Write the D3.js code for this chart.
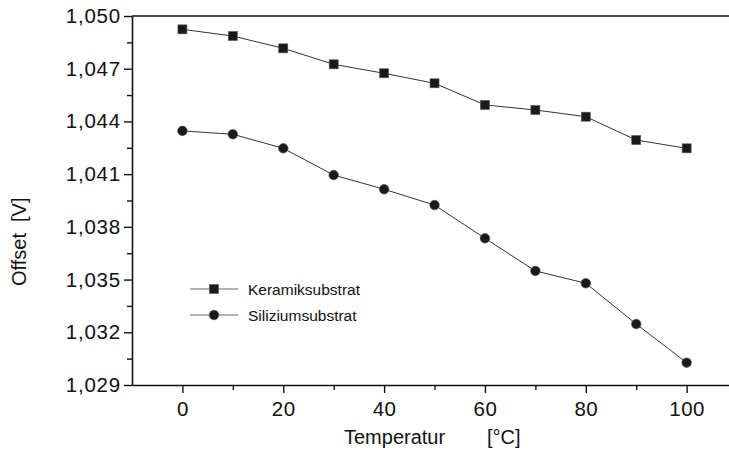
<!DOCTYPE html>
<html><head><meta charset="utf-8">
<script src="https://cdn.jsdelivr.net/npm/d3@7"></script>
<style>
body{margin:0;background:#fff;}
svg{display:block;}
text{font-family:"Liberation Sans",Arial,sans-serif;fill:#111;}
</style></head>
<body>
<svg id="c" width="729" height="460"></svg>
<script>
const temperatures = [0,10,20,30,40,50,60,70,80,90,100];
const keramik = [1.04924,1.04886,1.04816,1.04725,1.04674,1.04617,1.04494,1.04465,1.04427,1.04294,1.04247];
const silizium = [1.04346,1.04327,1.04247,1.04095,1.04014,1.03924,1.03735,1.03549,1.03479,1.03247,1.03027];
const xMajor = [0,20,40,60,80,100];
const xMinor = [10,30,50,70,90];
const yMajor = [1.029,1.032,1.035,1.038,1.041,1.044,1.047,1.050];
const yMinor = [1.0305,1.0335,1.0365,1.0395,1.0425,1.0455,1.0485];
const seriesNames = ["Keramiksubstrat","Siliziumsubstrat"];

const svg = d3.select("#c");
const x = d3.scaleLinear().domain([-10,108.4]).range([132,729]);
const y = d3.scaleLinear().domain([1.029,1.050]).range([385,16]);
const loc = d3.formatLocale({decimal:",",thousands:".",grouping:[3],currency:["",""]});
const fy = loc.format(".3f");
const FONT = "Liberation Sans, Arial, sans-serif";

// top frame line
svg.append("line").attr("x1",x.range()[0]).attr("x2",x.range()[1]).attr("y1",y(1.050)).attr("y2",y(1.050))
  .attr("stroke","#111").attr("stroke-width",1.6);

// x axis
const gx = svg.append("g").attr("transform",`translate(0,${y(1.029)})`);
gx.call(d3.axisBottom(x).tickValues(xMajor).tickSize(8).tickPadding(8).tickSizeOuter(0));
const gx2 = svg.append("g").attr("transform",`translate(0,${y(1.029)})`);
gx2.call(d3.axisBottom(x).tickValues(xMinor).tickSize(5).tickFormat("").tickSizeOuter(0));
gx2.select(".domain").remove();
gx.selectAll("text").attr("font-size",20.5).attr("font-family",FONT).attr("fill","#111")
  .attr("letter-spacing",0.5);

// y axis
const gy = svg.append("g").attr("transform",`translate(${x(-10)},0)`);
gy.call(d3.axisLeft(y).tickValues(yMajor).tickFormat(fy).tickSize(8).tickPadding(3).tickSizeOuter(0));
const gy2 = svg.append("g").attr("transform",`translate(${x(-10)},0)`);
gy2.call(d3.axisLeft(y).tickValues(yMinor).tickSize(5).tickFormat("").tickSizeOuter(0));
gy2.select(".domain").remove();
gy.selectAll("text").attr("font-size",20.5).attr("font-family",FONT).attr("fill","#111")
  .attr("letter-spacing",0.8);

svg.selectAll(".domain").attr("stroke","#111").attr("stroke-width",1.6);
svg.selectAll(".tick line").attr("stroke","#111").attr("stroke-width",1.4);

// axis titles
svg.append("text").attr("x",344).attr("y",444).attr("font-size",20).text("Temperatur");
svg.append("text").attr("x",487).attr("y",444).attr("font-size",20).text("[°C]");
svg.append("text").attr("transform","translate(26,286) rotate(-90)").attr("font-size",20).text("Offset");
svg.append("text").attr("transform","translate(26,222) rotate(-90)").attr("font-size",20).text("[V]");

// lines
const line = d3.line().x((d,i)=>x(temperatures[i])).y(d=>y(d));
[keramik, silizium].forEach(s=>{
  svg.append("path").attr("d",line(s)).attr("fill","none").attr("stroke","#333").attr("stroke-width",1);
});

// markers
function square(g, cx, cy){
  g.append("rect").attr("x",cx-4.5).attr("y",cy-4.5).attr("width",9).attr("height",9)
   .attr("fill","#1a1a1a").attr("stroke","#555").attr("stroke-width",0.6);
}
function circle(g, cx, cy){
  g.append("circle").attr("cx",cx).attr("cy",cy).attr("r",4.8)
   .attr("fill","#1a1a1a").attr("stroke","#555").attr("stroke-width",0.6);
}
const gm = svg.append("g");
keramik.forEach((v,i)=>square(gm, x(temperatures[i]), y(v)));
silizium.forEach((v,i)=>circle(gm, x(temperatures[i]), y(v)));

// legend
const leg = svg.append("g");
[[289, square],[315, circle]].forEach(([ly, fn],i)=>{
  leg.append("line").attr("x1",190).attr("x2",238).attr("y1",ly).attr("y2",ly).attr("stroke","#666").attr("stroke-width",1);
  fn(leg, 214, ly);
  leg.append("text").attr("x",248).attr("y",ly+5.5).attr("font-size",15.5).text(seriesNames[i]);
});
</script>
</body></html>
